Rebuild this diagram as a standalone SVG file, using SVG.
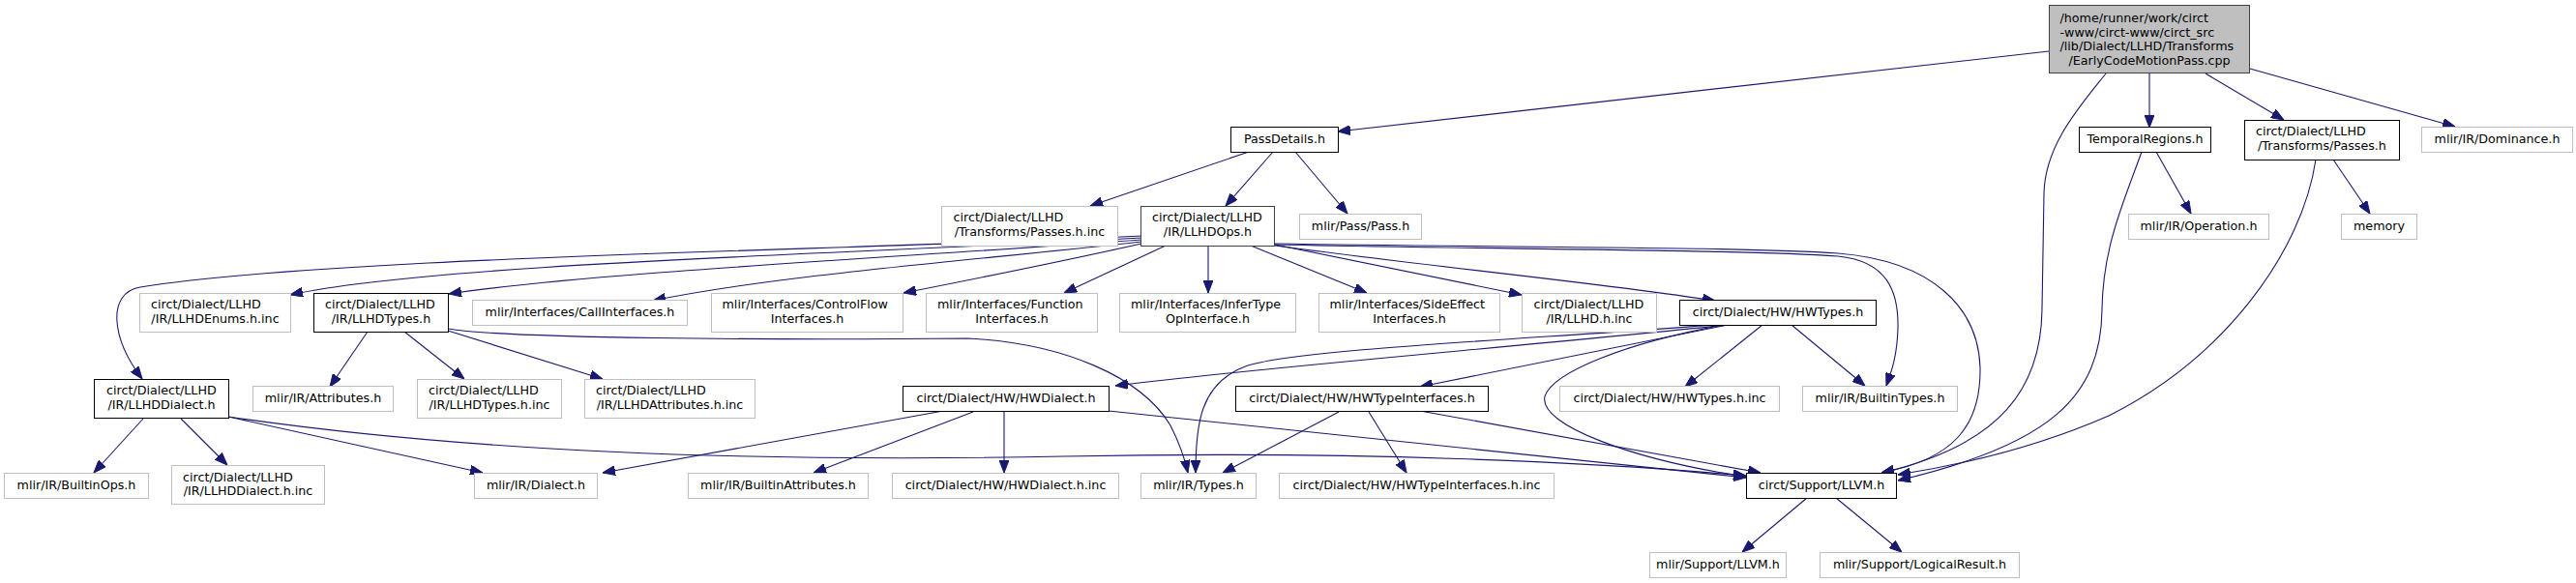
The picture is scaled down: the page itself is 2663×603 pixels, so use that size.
<svg xmlns="http://www.w3.org/2000/svg" width="2663" height="603" viewBox="0 0 2663 603">
<style>
rect{stroke-width:1}
.w{fill:#fff;stroke:#000}
.g{fill:#fff;stroke:#bfbfbf}
.d{fill:#fff;stroke:#404040}
.r{fill:#bfbfbf;stroke:#404040}
text{font-family:"DejaVu Sans","Liberation Sans",sans-serif;font-size:12.7px;fill:#000}
.c{text-anchor:middle}
.e path{fill:none;stroke:#191970;stroke-width:1.1;marker-end:url(#a)}
</style>
<defs>
<marker id="a" markerUnits="userSpaceOnUse" markerWidth="13" markerHeight="10" refX="13" refY="5" orient="auto">
<path d="M0,0 L13,5 L0,10 z" fill="#191970" stroke="#191970" stroke-width="1"/>
</marker>
</defs>
<rect width="2663" height="603" fill="#fff"/>
<g class="e" id="edges">
<path d="M2118,53 L1383,136"/>
<path d="M2177,76 C2150,110 2114,150 2113,200 L2111,320 C2110,400 2070,460 1945,489"/>
<path d="M2222,76 L2222,132"/>
<path d="M2280,76 L2361,124"/>
<path d="M2326,71 L2538,131"/>
<path d="M1291,157 L1127,213"/>
<path d="M1316,157 L1267,213"/>
<path d="M1339,157 L1393,221"/>
<path d="M2229,157 L2265,221"/>
<path d="M2214,157 C2195,210 2174,255 2173,320 C2172,410 2120,460 1962,497"/>
<path d="M2412,165 L2450,221"/>
<path d="M2394,165 C2380,260 2300,370 2180,430 C2100,465 2020,482 1962,491"/>
<path d="M1180,244 C850,260 350,265 145,297 C110,303 115,350 147,392"/>
<path d="M1180,246 C900,262 450,272 300,305"/>
<path d="M1180,248 C900,268 600,283 464,304"/>
<path d="M1180,250 C1000,270 800,285 675,311"/>
<path d="M1180,252 C1100,270 1000,290 934,303"/>
<path d="M1205,254 L1100,303"/>
<path d="M1249,254 L1249,303"/>
<path d="M1293,254 L1413,303"/>
<path d="M1318,253 L1573,305"/>
<path d="M1318,254 C1480,276 1650,292 1773,311"/>
<path d="M1318,253 C1550,258 1800,258 1900,265 C1950,270 1963,300 1962,340 C1961,370 1955,385 1950,399"/>
<path d="M1318,252 C1550,256 1800,255 1900,262 C2000,270 2045,320 2047,380 C2048,440 2020,475 1945,489"/>
<path d="M380,343 L341,400"/>
<path d="M418,343 L480,392"/>
<path d="M463,342 L623,392"/>
<path d="M463,340 C520,350 800,352 1000,350 C1100,355 1180,390 1210,440 C1220,460 1225,475 1228,489"/>
<path d="M148,433 L97,489"/>
<path d="M187,433 L235,481"/>
<path d="M236,431 L499,489"/>
<path d="M236,431 C500,470 800,478 1100,472 C1400,466 1650,478 1805,492"/>
<path d="M1786,336 C1600,356 1300,380 1153,399"/>
<path d="M1784,335 C1600,350 1350,360 1290,378 C1240,395 1236,440 1236,489"/>
<path d="M1786,336 L1468,400"/>
<path d="M1822,336 L1742,400"/>
<path d="M1852,336 L1928,399"/>
<path d="M1782,336 C1680,355 1605,385 1597,410 C1590,440 1690,476 1805,493"/>
<path d="M975,425 L623,489"/>
<path d="M1006,426 L841,489"/>
<path d="M1038,425 L1038,489"/>
<path d="M1146,425 L1805,494"/>
<path d="M1384,426 L1264,489"/>
<path d="M1415,426 L1454,489"/>
<path d="M1468,425 L1820,489"/>
<path d="M1868,515 L1801,571"/>
<path d="M1898,515 L1966,571"/>
</g>
<g id="main"><rect class="r" x="2118.5" y="5.5" width="207" height="70"/>
<text x="2129.5" y="23">/home/runner/work/circt</text>
<text x="2129.5" y="37.5">-www/circt-www/circt_src</text>
<text x="2129.5" y="52">/lib/Dialect/LLHD/Transforms</text>
<text class="c" x="2222" y="66.5">/EarlyCodeMotionPass.cpp</text></g>
<g id="passdetails"><rect class="w" x="1272.5" y="131.5" width="111" height="26"/><text class="c" x="1328" y="148">PassDetails.h</text></g>
<g id="temporalregions"><rect class="w" x="2149.5" y="131.5" width="136" height="26"/><text class="c" x="2217.5" y="148">TemporalRegions.h</text></g>
<g id="passes"><rect class="w" x="2320.5" y="124.5" width="160" height="41"/><text x="2332" y="140">circt/Dialect/LLHD</text><text class="c" x="2400.5" y="154.5">/Transforms/Passes.h</text></g>
<g id="dominance"><rect class="g" x="2503.5" y="131.5" width="156" height="26"/><text class="c" x="2581.5" y="148">mlir/IR/Dominance.h</text></g>
<g id="passesinc"><rect class="g" x="973.5" y="213.5" width="182" height="41"/><text x="985.5" y="229">circt/Dialect/LLHD</text><text class="c" x="1064.5" y="243.5">/Transforms/Passes.h.inc</text></g>
<g id="llhdops"><rect class="d" x="1179.5" y="213.5" width="138" height="41"/><text x="1191" y="229">circt/Dialect/LLHD</text><text class="c" x="1248.5" y="243.5">/IR/LLHDOps.h</text></g>
<g id="pass"><rect class="g" x="1343.5" y="221.5" width="126" height="26"/><text class="c" x="1406.5" y="238">mlir/Pass/Pass.h</text></g>
<g id="operation"><rect class="g" x="2200.5" y="221.5" width="145" height="26"/><text class="c" x="2273" y="238">mlir/IR/Operation.h</text></g>
<g id="memory"><rect class="g" x="2420.5" y="221.5" width="78" height="26"/><text class="c" x="2459.5" y="238">memory</text></g>
<g id="llhdenums"><rect class="g" x="144.5" y="303.5" width="156" height="40"/><text x="156" y="319">circt/Dialect/LLHD</text><text class="c" x="222.5" y="333.5">/IR/LLHDEnums.h.inc</text></g>
<g id="llhdtypes"><rect class="w" x="324.5" y="303.5" width="139" height="40"/><text x="336" y="319">circt/Dialect/LLHD</text><text class="c" x="394" y="333.5">/IR/LLHDTypes.h</text></g>
<g id="callinterfaces"><rect class="g" x="488.5" y="310.5" width="222" height="26"/><text class="c" x="599.5" y="327">mlir/Interfaces/CallInterfaces.h</text></g>
<g id="controlflow"><rect class="g" x="735.5" y="303.5" width="198" height="40"/><text x="746.5" y="319">mlir/Interfaces/ControlFlow</text><text class="c" x="834.5" y="333.5">Interfaces.h</text></g>
<g id="function"><rect class="g" x="957.5" y="303.5" width="177" height="40"/><text x="969" y="319">mlir/Interfaces/Function</text><text class="c" x="1046" y="333.5">Interfaces.h</text></g>
<g id="infertype"><rect class="g" x="1157.5" y="303.5" width="182" height="40"/><text x="1169" y="319">mlir/Interfaces/InferType</text><text class="c" x="1248.5" y="333.5">OpInterface.h</text></g>
<g id="sideeffect"><rect class="g" x="1363.5" y="303.5" width="187" height="40"/><text x="1374.5" y="319">mlir/Interfaces/SideEffect</text><text class="c" x="1457" y="333.5">Interfaces.h</text></g>
<g id="llhdinc"><rect class="g" x="1573.5" y="303.5" width="139" height="40"/><text x="1585.5" y="319">circt/Dialect/LLHD</text><text class="c" x="1643" y="333.5">/IR/LLHD.h.inc</text></g>
<g id="hwtypes"><rect class="w" x="1736.5" y="310.5" width="203" height="26"/><text class="c" x="1838" y="327">circt/Dialect/HW/HWTypes.h</text></g>
<g id="llhddialect"><rect class="w" x="97.5" y="392.5" width="139" height="40"/><text x="110" y="408">circt/Dialect/LLHD</text><text class="c" x="167" y="422.5">/IR/LLHDDialect.h</text></g>
<g id="attributes"><rect class="g" x="261.5" y="399.5" width="145" height="26"/><text class="c" x="334" y="416">mlir/IR/Attributes.h</text></g>
<g id="llhdtypesinc"><rect class="g" x="431.5" y="392.5" width="149" height="40"/><text x="443" y="408">circt/Dialect/LLHD</text><text class="c" x="506" y="422.5">/IR/LLHDTypes.h.inc</text></g>
<g id="llhdattrinc"><rect class="g" x="604.5" y="392.5" width="176" height="40"/><text x="616" y="408">circt/Dialect/LLHD</text><text class="c" x="692.5" y="422.5">/IR/LLHDAttributes.h.inc</text></g>
<g id="hwdialect"><rect class="w" x="933.5" y="399.5" width="213" height="26"/><text class="c" x="1040" y="416">circt/Dialect/HW/HWDialect.h</text></g>
<g id="hwtypeinterfaces"><rect class="w" x="1277.5" y="399.5" width="261" height="26"/><text class="c" x="1408" y="416">circt/Dialect/HW/HWTypeInterfaces.h</text></g>
<g id="hwtypesinc"><rect class="g" x="1612.5" y="399.5" width="227" height="26"/><text class="c" x="1726" y="416">circt/Dialect/HW/HWTypes.h.inc</text></g>
<g id="builtintypes"><rect class="g" x="1863.5" y="399.5" width="160" height="26"/><text class="c" x="1943.5" y="416">mlir/IR/BuiltinTypes.h</text></g>
<g id="builtinops"><rect class="g" x="4.5" y="489.5" width="149" height="26"/><text class="c" x="79" y="506">mlir/IR/BuiltinOps.h</text></g>
<g id="llhddialectinc"><rect class="g" x="177.5" y="481.5" width="158" height="40"/><text x="189" y="497.5">circt/Dialect/LLHD</text><text class="c" x="256.5" y="512">/IR/LLHDDialect.h.inc</text></g>
<g id="dialect"><rect class="g" x="490.5" y="489.5" width="127" height="26"/><text class="c" x="554" y="506">mlir/IR/Dialect.h</text></g>
<g id="builtinattributes"><rect class="g" x="711.5" y="489.5" width="186" height="26"/><text class="c" x="804.5" y="506">mlir/IR/BuiltinAttributes.h</text></g>
<g id="hwdialectinc"><rect class="g" x="922.5" y="489.5" width="234" height="26"/><text class="c" x="1039.5" y="506">circt/Dialect/HW/HWDialect.h.inc</text></g>
<g id="types"><rect class="g" x="1179.5" y="489.5" width="119" height="26"/><text class="c" x="1239" y="506">mlir/IR/Types.h</text></g>
<g id="hwtypeinterfacesinc"><rect class="g" x="1322.5" y="489.5" width="284" height="26"/><text class="c" x="1464.5" y="506">circt/Dialect/HW/HWTypeInterfaces.h.inc</text></g>
<g id="circtllvm"><rect class="w" x="1805.5" y="489.5" width="155" height="26"/><text class="c" x="1883" y="506">circt/Support/LLVM.h</text></g>
<g id="mlirllvm"><rect class="g" x="1705.5" y="571.5" width="141" height="26"/><text class="c" x="1776" y="588">mlir/Support/LLVM.h</text></g>
<g id="logicalresult"><rect class="g" x="1881.5" y="571.5" width="206" height="26"/><text class="c" x="1984.5" y="588">mlir/Support/LogicalResult.h</text></g>
</svg>
